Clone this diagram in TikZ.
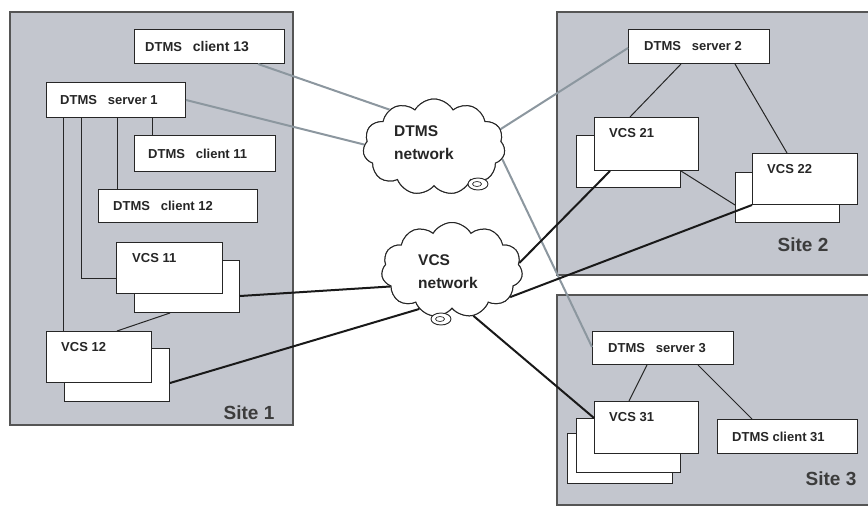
\documentclass[tikz,border=0pt]{standalone}
\usepackage{fontspec}
\setmainfont{Liberation Sans}
\usetikzlibrary{shapes.symbols,shapes.geometric,calc}
\definecolor{sitefill}{HTML}{C3C6CE}
\definecolor{siteline}{HTML}{555555}
\definecolor{netline}{HTML}{8C979F}
\definecolor{txt}{HTML}{262626}
\newcommand\mybox[5]{\node[box, minimum width={#4-#2}, minimum height={#5-#3}] (#1) at (#2,#3) {};}
\begin{document}
\begin{tikzpicture}[x=1pt,y=-1pt,
  site/.style={draw=siteline, fill=sitefill, line width=1.2pt},
  box/.style={draw=black!85, fill=white, line width=1pt, anchor=north west, inner sep=0pt},
  lbl/.style={font=\fontsize{13}{15}\selectfont\bfseries, text=txt, inner sep=0pt},
  sitelbl/.style={font=\fontsize{19}{21}\selectfont\bfseries, text=txt!90, inner sep=0pt},
  netlbl/.style={font=\fontsize{15.5}{23}\selectfont\bfseries, text=txt, inner sep=0pt, align=left},
  thin/.style={draw=black!85, line width=1pt},
  thick/.style={draw=black!90, line width=2pt},
  gline/.style={draw=netline, line width=2pt},
  net/.style={cloud, cloud puffs=11, cloud puff arc=120, cloud ignores aspect, draw=black!85, fill=white, line width=1pt, inner sep=0pt},
  tail/.style={ellipse, draw=black!85, fill=white, line width=0.9pt, inner sep=0pt}
]
\useasboundingbox (0,0) rectangle (868,506);
\fill[white] (0,0) rectangle (868,506);
% sites
\path[site] (10,12) rectangle (293,425);
\path[site] (557,12) rectangle (875,275);
\path[site] (557,295) rectangle (875,505);
\node[sitelbl] (site1) at (249,413) {Site 1};
\node[sitelbl] (site2) at (803,245) {Site 2};
\node[sitelbl] (site3) at (831,479) {Site 3};

% clouds (placed first as nodes for anchors)
\node[net, minimum width=142, minimum height=96] (dcl) at (434,147) {};
\node[net, minimum width=141, minimum height=95] (vcl) at (452,270) {};

% site 1 boxes
\mybox{c13}{134}{29}{284}{63}
\mybox{s1}{46}{82}{185}{117}
\mybox{c11}{134}{135}{275}{171}
\mybox{c12}{98}{189}{257}{222}
\mybox{v11b}{134}{260}{239}{312}
\mybox{v11}{116}{242}{222}{293}
\mybox{v12b}{64}{348}{169}{401}
\mybox{v12}{46}{331}{151}{382}
% site 2 boxes
\mybox{s2}{628}{29}{769}{63}
\mybox{v21b}{576}{135}{680}{187}
\mybox{v21}{594}{117}{698}{170}
\mybox{v22b}{735}{172}{839}{222}
\mybox{v22}{752}{153}{857}{204}
% site 3 boxes
\mybox{s3}{592}{331}{733}{364}
\mybox{v31c}{567}{433}{672}{483}
\mybox{v31b}{576}{418}{680}{472}
\mybox{v31}{594}{401}{698}{453}
\mybox{c31}{717}{419}{857}{453}

% box texts
\node[lbl, anchor=west] (c13t) at ($(c13.west)+(11,0)$) {DTMS\ \ \ \fontsize{14}{16}\selectfont client 13};
\node[lbl, anchor=west] (s1t) at ($(s1.west)+(14,0)$) {DTMS\ \ \ server 1};
\node[lbl, anchor=west] (c11t) at ($(c11.west)+(14,0)$) {DTMS\ \ \ client 11};
\node[lbl, anchor=west] (c12t) at ($(c12.west)+(15,0)$) {DTMS\ \ \ client 12};
\node[lbl, anchor=north west] (v11t) at ($(v11.north west)+(16,11)$) {VCS 11};
\node[lbl, anchor=north west] (v12t) at ($(v12.north west)+(15,11)$) {VCS 12};
\node[lbl, anchor=west] (s2t) at ($(s2.west)+(16,0)$) {DTMS\ \ \ server 2};
\node[lbl, anchor=north west] (v21t) at ($(v21.north west)+(15,11)$) {VCS 21};
\node[lbl, anchor=north west] (v22t) at ($(v22.north west)+(15,11)$) {VCS 22};
\node[lbl, anchor=west] (s3t) at ($(s3.west)+(16,0)$) {DTMS\ \ \ server 3};
\node[lbl, anchor=north west] (v31t) at ($(v31.north west)+(15,11)$) {VCS 31};
\node[lbl, anchor=west] (c31t) at ($(c31.west)+(15,0)$) {DTMS client 31};

% site 1 internal lines
\path[thin] ($(s1.south west)+(17,0)$) -- ($(v12.north west)+(17,0)$);
\path[thin] ($(s1.south west)+(35,0)$) |- ($(v11.north west)+(0,36)$);
\path[thin] ($(s1.south west)+(71,0)$) -- ($(c12.north west)+(19,0)$);
\path[thin] ($(s1.south west)+(106,0)$) -- ($(c11.north west)+(18,0)$);
\path[thin] ($(v12.north west)+(71,0)$) -- ($(v11b.south west)+(36,0)$);
% site 2 internal lines
\path[thin] ($(s2.south west)+(53,0)$) -- ($(v21.north west)+(36,0)$);
\path[thin] ($(s2.south west)+(107,0)$) -- ($(v22.north west)+(35,0)$);
\path[thin] ($(v21.south east)+(-18,0)$) -- ($(v22b.north west)+(0,33)$);
% site 3 internal lines
\path[thin] ($(s3.south west)+(55,0)$) -- ($(v31.north west)+(35,0)$);
\path[thin] ($(s3.south west)+(106,0)$) -- ($(c31.north west)+(35,0)$);

% network lines
\path[gline] ($(c13.south east)+(-27,0)$) -- (dcl.140);
\path[gline] (s1.east) -- (dcl.178);
\path[gline] ($(s2.north west)+(0,19)$) -- (dcl.15);
\path[gline] (dcl.-10) -- ($(s3.north west)+(0,16)$);
\path[thick] ($(v11b.north east)+(0,36)$) -- (vcl.195);
\path[thick] ($(v12b.north east)+(0,35)$) -- (vcl.230);
\path[thick] ($(v21.south west)+(16,0)$) -- (vcl.6);
\path[thick] (v22.south west) -- (vcl.-25);
\path[thick] (vcl.-65) -- ($(v31.north west)+(0,17)$);

% redraw clouds on top
\node[net, minimum width=142, minimum height=96] (dcl2) at (434,147) {};
\node[net, minimum width=141, minimum height=95] (vcl2) at (452,270) {};
\node[tail, minimum width=20, minimum height=12] (dtail) at (478,184) {};
\node[tail, minimum width=9, minimum height=5, line width=0.7pt] (dtail2) at (477,184) {};
\node[tail, minimum width=20, minimum height=12] (vtail) at (441,319) {};
\node[tail, minimum width=9, minimum height=5, line width=0.7pt] (vtail2) at (440,319) {};
\node[netlbl, anchor=west] (dclt) at (394,143) {DTMS\\network};
\node[netlbl, anchor=west] (vclt) at (418,272) {VCS\\network};
\end{tikzpicture}
\end{document}
